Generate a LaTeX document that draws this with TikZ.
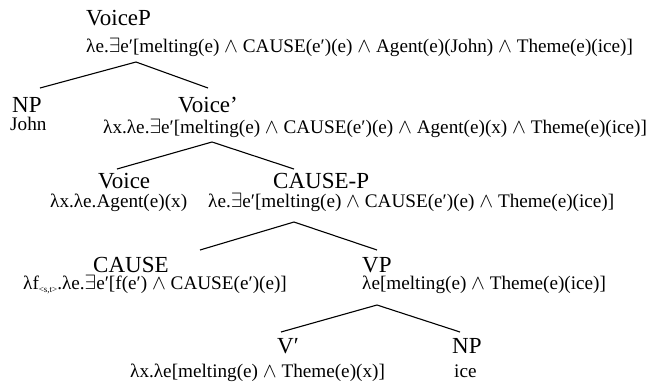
\documentclass[tikz,border=0pt]{standalone}
\usepackage{fontspec}
\setmainfont{Liberation Serif}
\newcommand{\wdg}{\ensuremath{\wedge}}
\newcommand{\exs}{\ensuremath{\exists}}
\begin{document}
\begin{tikzpicture}[x=1pt,y=-1pt,
  cat/.style={anchor=base west,inner sep=0pt,font=\fontsize{23}{25}\selectfont},
  sem/.style={anchor=base west,inner sep=0pt,font=\fontsize{19.2}{21}\selectfont},
  branch/.style={line width=1.1pt}]
\useasboundingbox (0,0) rectangle (648,381);
% row 1
\node[cat] (voicep) at (86,25) {VoiceP};
\node[sem] (f1) at (86,52) {λe.\exs e′[melting(e) \wdg{} CAUSE(e′)(e) \wdg{} Agent(e)(John) \wdg{} Theme(e)(ice)]};
\coordinate (a1) at (136,62);
\coordinate (l1) at (40,88);
\coordinate (r1) at (208,88);
% row 2
\node[cat] (np1) at (12,112) {NP};
\node[sem] (john) at (10,130) {John};
\node[cat] (voicebar) at (178,112) {Voice’};
\node[sem] (f2) at (103,133) {λx.λe.\exs e′[melting(e) \wdg{} CAUSE(e′)(e) \wdg{} Agent(e)(x) \wdg{} Theme(e)(ice)]};
\coordinate (a2) at (212,142);
\coordinate (l2) at (117,169);
\coordinate (r2) at (294,169);
% row 3
\node[cat] (voice) at (98,188) {Voice};
\node[cat] (causep) at (273,188) {CAUSE-P};
\node[sem] (f3) at (50,207) {λx.λe.Agent(e)(x)};
\node[sem] (f4) at (208,207) {λe.\exs e′[melting(e) \wdg{} CAUSE(e′)(e) \wdg{} Theme(e)(ice)]};
\coordinate (a3) at (294,222);
\coordinate (l3) at (200,250);
\coordinate (r3) at (377,250);
% row 4
\node[cat] (cause) at (93,272) {CAUSE};
\node[cat] (vp) at (362,272) {VP};
\node[sem] (f5) at (23,289) {λf\raisebox{-0.35ex}{\fontsize{9}{10}\selectfont <s,t>}.λe.\exs e′[f(e′) \wdg{} CAUSE(e′)(e)]};
\node[sem] (f6) at (362,289) {λe[melting(e) \wdg{} Theme(e)(ice)]};
\coordinate (a4) at (377,305);
\coordinate (l4) at (281,332);
\coordinate (r4) at (460,332);
% row 5
\node[cat] (vbar) at (277,353) {V′};
\node[cat] (np2) at (452,353) {NP};
\node[sem] (f7) at (130,377) {λx.λe[melting(e) \wdg{} Theme(e)(x)]};
\node[sem] (ice) at (454,377) {ice};
% branches
\draw[branch] (l1) -- (a1) -- (r1);
\draw[branch] (l2) -- (a2) -- (r2);
\draw[branch] (l3) -- (a3) -- (r3);
\draw[branch] (l4) -- (a4) -- (r4);
\end{tikzpicture}
\end{document}
